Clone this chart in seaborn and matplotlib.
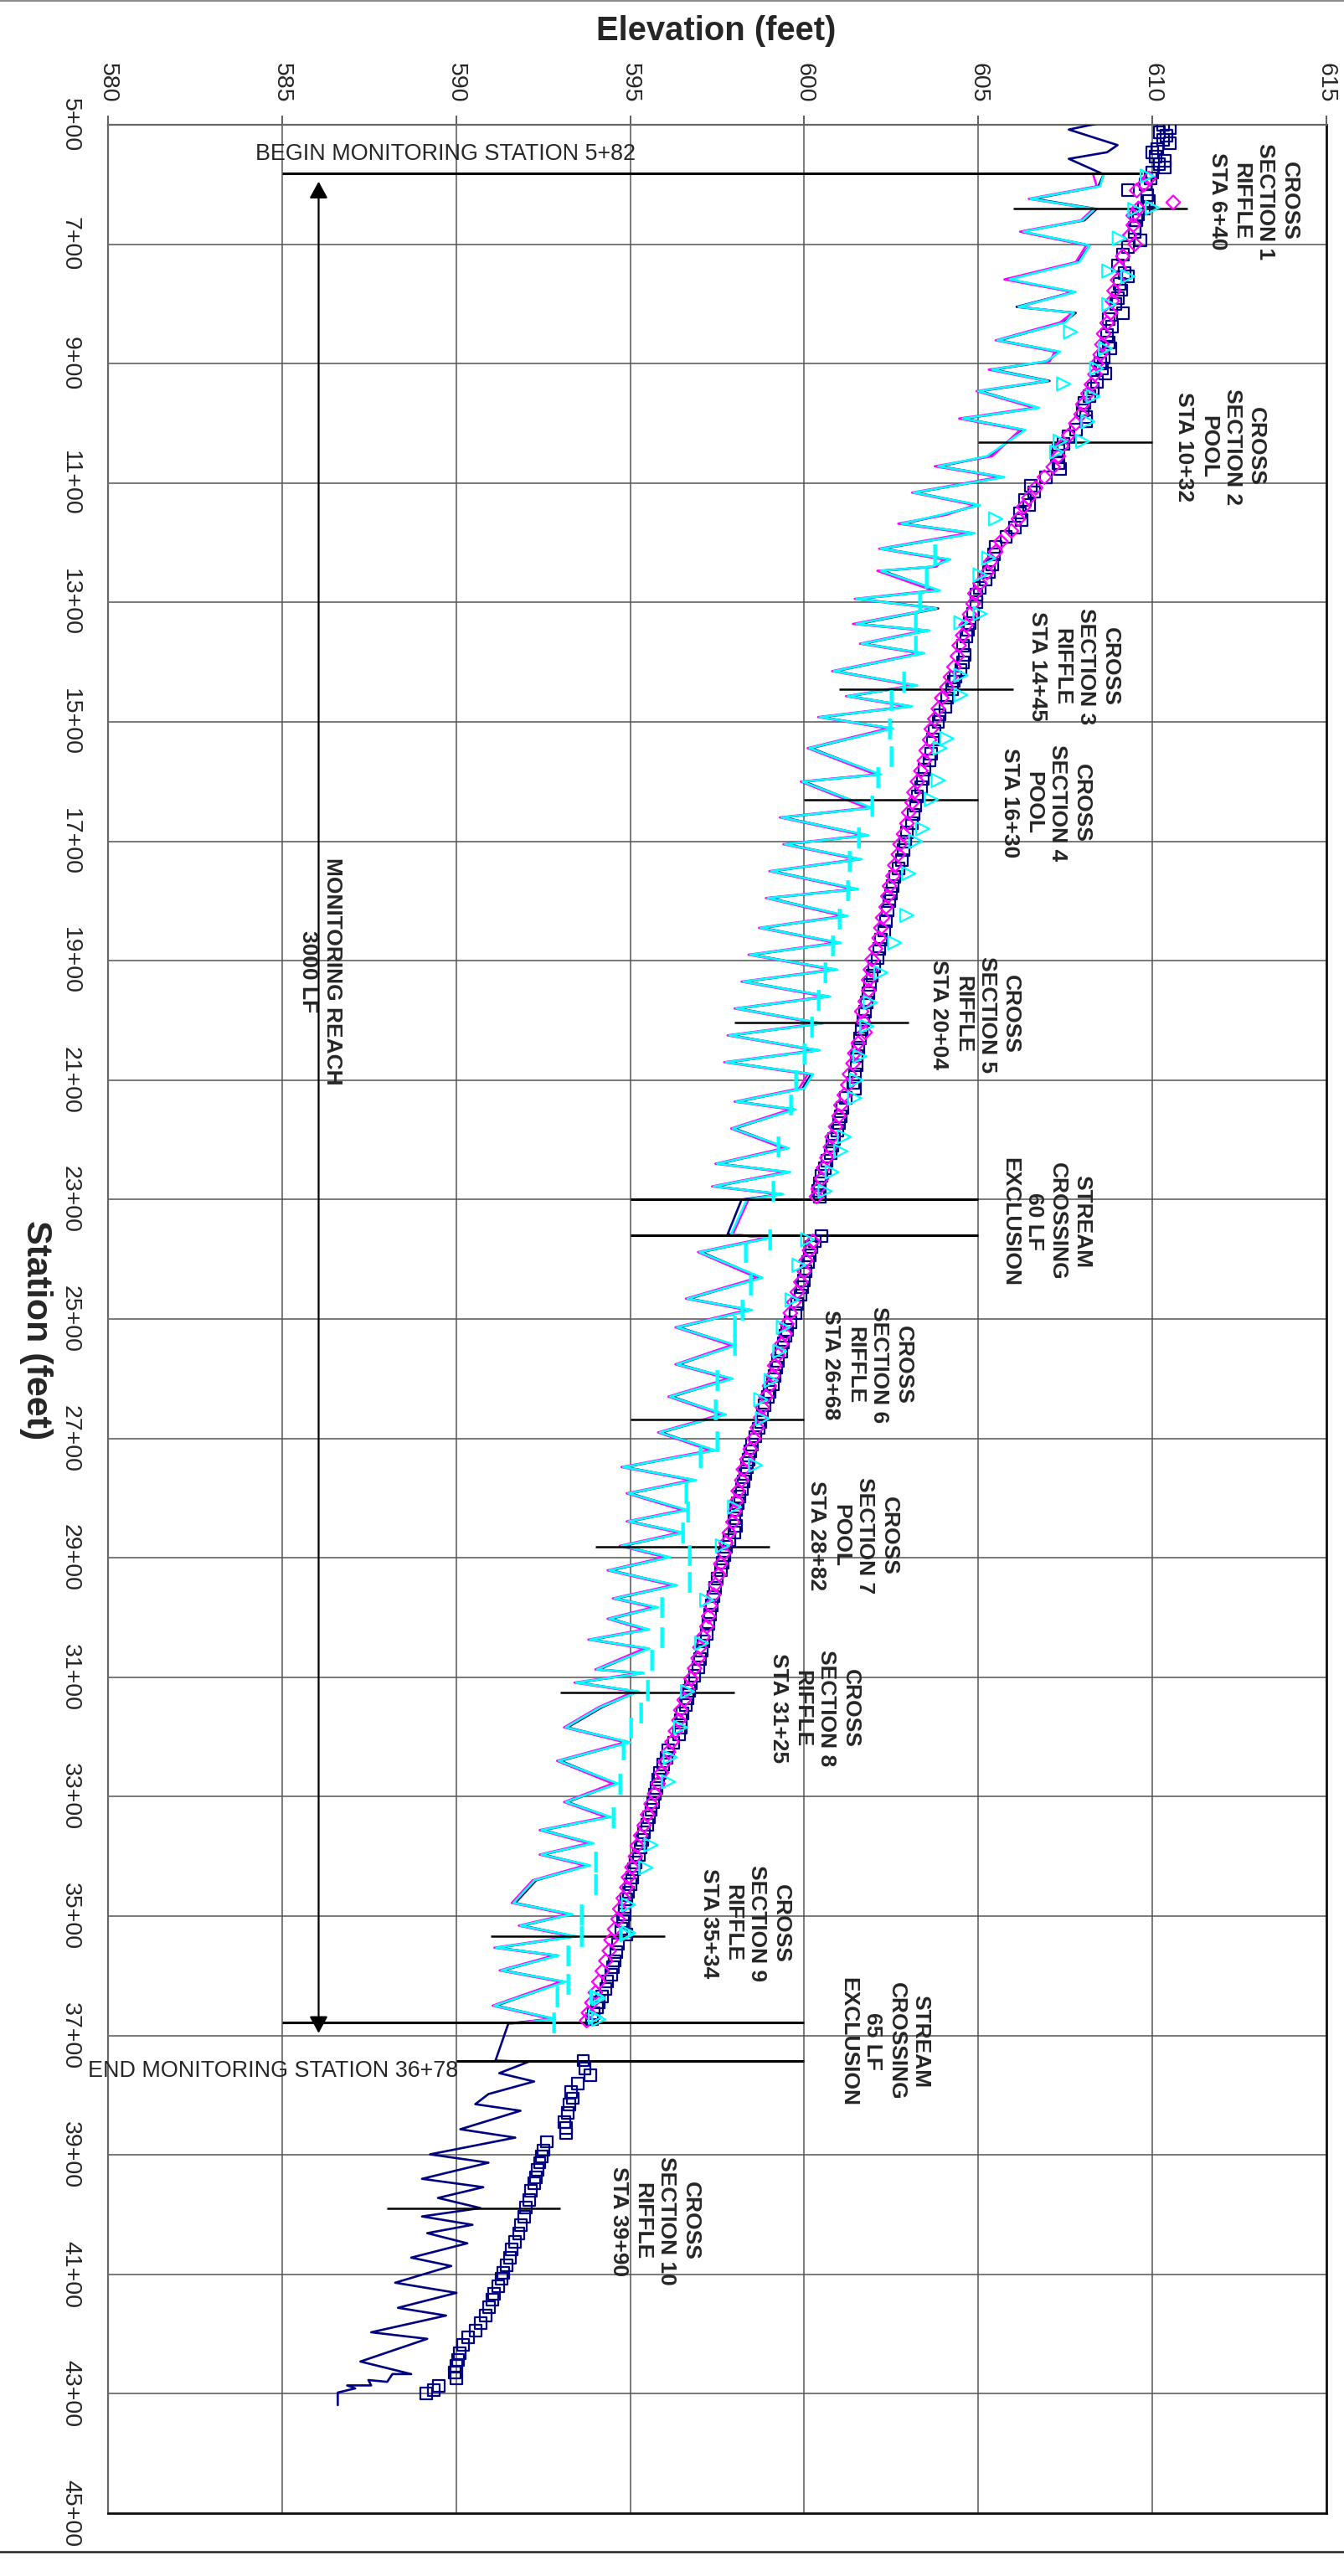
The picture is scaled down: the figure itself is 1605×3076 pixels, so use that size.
import matplotlib
matplotlib.use("Agg")
import matplotlib.pyplot as plt
import seaborn as sns
from matplotlib.lines import Line2D
from matplotlib.ticker import MultipleLocator, FixedLocator, FuncFormatter

sns.set_style("white")
plt.rcParams['font.family'] = ['Liberation Sans', 'DejaVu Sans']

# ---------------- survey data (station in feet, elevation in feet) ----------------
# thalweg stations shared by the three surveys inside the monitored reach
mon_sta = [583, 603, 624, 641, 660, 679, 702, 730, 759, 780,
           805, 815, 831, 861, 880, 896, 910, 929, 946, 974,
           992, 1011, 1055, 1072, 1090, 1116, 1137, 1153, 1168, 1184,
           1210, 1228, 1240, 1247, 1280, 1294, 1310, 1336, 1347, 1369,
           1385, 1415, 1439, 1457, 1474, 1492, 1511, 1544, 1588, 1600,
           1644, 1660, 1690, 1705, 1730, 1750, 1780, 1795, 1825, 1845,
           1870, 1890, 1915, 1935, 1960, 1980, 2005, 2025, 2050, 2070,
           2090, 2114, 2136, 2149, 2181, 2214, 2240, 2254, 2278, 2291,
           2300, 2358, 2364, 2388, 2431, 2466, 2485, 2514, 2544, 2576,
           2600, 2630, 2660, 2690, 2720, 2748, 2770, 2792, 2820, 2839,
           2858, 2880, 2899, 2921, 2946, 2968, 2983, 3002, 3020, 3037,
           3052, 3087, 3093, 3109, 3124, 3150, 3184, 3209, 3240, 3278,
           3309, 3334, 3356, 3378, 3397, 3415, 3440, 3478, 3497, 3516,
           3534, 3553, 3566, 3591, 3610, 3650, 3672, 3680]

asbuilt_thalweg_mon = [608.6, 608.45, 606.6, 608.4, 608.05, 606.25, 608.2, 607.85, 605.85, 607.75,
                       606.1, 607.8, 607.45, 605.6, 607.3, 607.0, 605.45, 607.05, 605.05, 606.7,
                       604.6, 606.3, 605.3, 603.9, 605.7, 603.2, 605.0, 604.0, 602.85, 604.85,
                       602.25, 604.15, 603.7, 602.25, 603.85, 601.55, 603.85, 601.55, 603.55, 601.7,
                       603.4, 600.9, 603.2, 601.3, 603.05, 600.5, 602.5, 600.2, 602.15, 600.0,
                       601.9, 599.4, 601.8, 599.5, 601.6, 599.1, 601.5, 599.0, 601.2, 598.8,
                       601.0, 598.5, 600.9, 598.3, 600.7, 598.1, 600.5, 597.9, 600.4, 597.8,
                       600.2, 599.95, 598.1, 599.7, 598.0, 599.5, 597.55, 599.55, 597.45, 599.35,
                       598.2, 597.8, 599.0, 597.05, 598.75, 596.7, 598.45, 596.4, 598.0, 596.4,
                       597.9, 596.2, 597.7, 595.9, 597.4, 594.85, 596.85, 595.0, 596.6, 595.0,
                       596.5, 594.8, 596.1, 594.45, 596.3, 594.6, 595.75, 594.45, 595.5, 593.9,
                       595.5, 594.1, 595.35, 593.5, 595.2, 594.2, 593.2, 594.95, 593.0, 594.6,
                       593.2, 594.4, 592.5, 593.9, 592.5, 593.8, 592.3, 591.7, 593.3, 591.9,
                       593.4, 591.2, 592.9, 591.35, 593.1, 591.15, 592.8, 591.5]

yr1_thalweg = [608.3, 608.4, 606.45, 608.3, 607.95, 606.2, 608.1, 607.8, 605.75, 607.7,
               606.2, 607.7, 607.35, 605.5, 607.2, 607.05, 605.3, 606.95, 604.95, 606.6,
               604.45, 606.2, 605.4, 603.75, 605.6, 603.1, 604.9, 604.1, 602.7, 604.7,
               602.15, 604.0, 603.8, 602.1, 603.7, 601.45, 603.75, 601.4, 603.45, 601.6,
               603.3, 600.8, 603.1, 601.2, 602.95, 600.4, 602.4, 600.1, 602.05, 599.9,
               601.8, 599.3, 601.7, 599.4, 601.5, 599.0, 601.4, 598.9, 601.1, 598.7,
               600.9, 598.4, 600.8, 598.2, 600.6, 598.0, 600.4, 597.8, 600.3, 597.7,
               600.1, 599.85, 598.0, 599.6, 597.9, 599.4, 597.45, 599.45, 597.35, 599.25,
               598.4, 597.95, 598.9, 596.95, 598.65, 596.6, 598.35, 596.3, 597.9, 596.3,
               597.8, 596.1, 597.6, 595.8, 597.3, 594.75, 596.75, 594.9, 596.5, 594.9,
               596.4, 594.7, 596.0, 594.35, 596.2, 594.5, 595.65, 594.35, 595.4, 593.8,
               595.4, 594.0, 595.25, 593.4, 595.1, 594.1, 593.1, 594.85, 592.9, 594.5,
               593.1, 594.3, 592.4, 593.8, 592.4, 593.7, 592.2, 591.6, 593.2, 591.8,
               593.3, 591.1, 592.8, 591.25, 593.0, 591.05, 592.7, 591.6]

yr2_thalweg = [608.6, 608.5, 606.5, 608.35, 608.0, 606.3, 608.2, 607.9, 605.9, 607.8,
               606.15, 607.75, 607.5, 605.55, 607.35, 606.95, 605.4, 607.0, 605.0, 606.75,
               604.55, 606.35, 605.25, 603.85, 605.75, 603.15, 605.05, 603.95, 602.8, 604.9,
               602.2, 604.2, 603.65, 602.2, 603.9, 601.5, 603.8, 601.5, 603.6, 601.65,
               603.45, 600.85, 603.25, 601.25, 603.1, 600.45, 602.55, 600.15, 602.2, 599.95,
               601.95, 599.35, 601.85, 599.45, 601.65, 599.05, 601.55, 598.95, 601.25, 598.75,
               601.05, 598.45, 600.95, 598.25, 600.75, 598.05, 600.55, 597.85, 600.45, 597.75,
               600.25, 600.0, 598.05, 599.75, 597.95, 599.55, 597.5, 599.6, 597.4, 599.4,
               598.35, 597.9, 599.05, 597.0, 598.8, 596.65, 598.5, 596.35, 598.05, 596.35,
               597.95, 596.15, 597.75, 595.85, 597.45, 594.8, 596.9, 594.95, 596.65, 594.95,
               596.55, 594.75, 596.15, 594.4, 596.35, 594.55, 595.8, 594.4, 595.55, 593.85,
               595.55, 594.05, 595.4, 593.45, 595.25, 594.15, 593.15, 595.0, 592.95, 594.65,
               593.15, 594.45, 592.45, 593.95, 592.45, 593.85, 592.25, 591.65, 593.35, 591.85,
               593.45, 591.15, 592.95, 591.3, 593.15, 591.1, 592.85, 591.75]

# as-built thalweg upstream and downstream of the monitored reach
asbuilt_sta_up = [492, 497, 508, 534, 546, 557]
asbuilt_thalweg_up = [609.05, 608.5, 607.6, 609.0, 608.7, 607.6]
asbuilt_sta_down = [3742, 3744, 3763, 3777, 3798, 3815, 3826, 3857, 3871, 3899,
                    3913, 3940, 3954, 3972, 3989, 4003, 4017, 4031, 4048, 4072,
                    4086, 4114, 4131, 4156, 4169, 4197, 4208, 4246, 4267, 4267,
                    4280, 4277, 4286, 4286, 4291, 4298, 4319]
asbuilt_thalweg_down = [591.13, 592.08, 591.24, 592.24, 590.93, 590.55, 591.85, 590.12, 591.7, 589.25,
                        590.93, 589.02, 590.78, 589.48, 590.7, 589.02, 590.47, 589.17, 590.32, 588.71,
                        589.86, 588.25, 590.01, 588.33, 589.71, 587.56, 589.17, 587.25, 588.71, 588.17,
                        588.02, 587.48, 587.56, 586.87, 587.1, 586.6, 586.6]

# as-built water surface (squares)
ws0_sta = [500, 506, 512, 518, 525, 531, 540, 546, 553, 560, 566, 572, 580, 590, 600, 610, 618, 628, 640, 650,
           660, 672, 679, 693, 705, 718, 735, 748, 754, 766, 777, 790, 800, 815, 826, 838, 852, 865, 875, 890,
           900, 908, 917, 930, 942, 955, 966, 978, 990, 997, 1010, 1022, 1034, 1045, 1056, 1066, 1076, 1090, 1104, 1115,
           1128, 1137, 1150, 1162, 1175, 1190, 1207, 1220, 1236, 1249, 1262, 1275, 1287, 1300, 1319, 1335, 1346, 1357, 1372, 1388,
           1400, 1413, 1425, 1432, 1445, 1460, 1475, 1488, 1500, 1515, 1530, 1553, 1565, 1580, 1595, 1609, 1625, 1640, 1655, 1670,
           1685, 1700, 1715, 1731, 1745, 1760, 1775, 1787, 1800, 1815, 1834, 1850, 1865, 1880, 1895, 1910, 1925, 1940, 1955, 1970,
           1985, 2000, 2015, 2030, 2045, 2060, 2075, 2090, 2104, 2114, 2130, 2146, 2160, 2172, 2184, 2198, 2210, 2222, 2235, 2248,
           2260, 2273, 2286, 2295, 2361, 2370, 2380, 2393, 2405, 2420, 2435, 2447, 2460, 2475, 2490, 2505, 2518, 2528, 2540, 2555,
           2570, 2581, 2595, 2610, 2622, 2630, 2645, 2660, 2672, 2683, 2697, 2710, 2722, 2735, 2748, 2760, 2772, 2785, 2797, 2808,
           2820, 2834, 2846, 2858, 2870, 2882, 2895, 2908, 2921, 2935, 2950, 2965, 2980, 2995, 3010, 3027, 3040, 3055, 3070, 3084,
           3097, 3110, 3123, 3135, 3146, 3160, 3172, 3184, 3196, 3210, 3222, 3235, 3246, 3260, 3272, 3285, 3296, 3310, 3322, 3335,
           3347, 3360, 3372, 3385, 3397, 3410, 3422, 3435, 3447, 3460, 3472, 3485, 3497, 3509, 3521, 3531, 3547, 3560, 3575, 3586,
           3598, 3610, 3622, 3635, 3645, 3653, 3663, 3672, 3742, 3755, 3767, 3780, 3795, 3805, 3815, 3830, 3845, 3855, 3864, 3878,
           3892, 3903, 3913, 3925, 3937, 3947, 3960, 3975, 3988, 4003, 4017, 4031, 4045, 4058, 4072, 4085, 4097, 4107, 4120, 4132,
           4142, 4155, 4169, 4182, 4194, 4205, 4218, 4232, 4243, 4253, 4264, 4274, 4287, 4294, 4300]
ws0_elev = [610.3, 610.5, 610.2, 610.4, 610.3, 610.5, 610.15, 610.0, 610.1, 610.35, 610.2, 610.35, 610.0, 609.95, 609.8, 609.3, 609.85, 609.9, 609.75, 609.6,
            609.55, 609.5, 609.5, 609.65, 609.3, 609.15, 609.0, 609.2, 609.3, 609.05, 609.1, 609.0, 608.95, 609.15, 608.75, 608.85, 608.7, 608.75, 608.8, 608.6,
            608.5, 608.55, 608.65, 608.4, 608.3, 608.2, 608.05, 608.0, 608.1, 608.1, 607.8, 607.6, 607.45, 607.3, 607.25, 607.3, 607.35, 606.95, 606.5, 606.6,
            606.35, 606.45, 606.2, 606.25, 606.05, 605.8, 605.5, 605.45, 605.4, 605.3, 605.2, 605.05, 604.95, 604.95, 604.85, 604.75, 604.7, 604.65, 604.55, 604.6,
            604.55, 604.5, 604.35, 604.3, 604.25, 604.1, 604.05, 603.9, 603.85, 603.75, 603.7, 603.65, 603.6, 603.45, 603.4, 603.35, 603.25, 603.2, 603.15, 603.1,
            602.95, 602.9, 602.85, 602.8, 602.7, 602.6, 602.55, 602.5, 602.45, 602.4, 602.35, 602.3, 602.2, 602.15, 602.1, 602.0, 601.95, 601.9, 601.85, 601.8,
            601.75, 601.7, 601.65, 601.6, 601.55, 601.5, 601.5, 601.45, 601.4, 601.45, 601.2, 601.1, 601.05, 601.0, 600.95, 600.85, 600.8, 600.75, 600.65, 600.6,
            600.5, 600.45, 600.4, 600.45, 600.5, 600.3, 600.2, 600.15, 600.1, 600.05, 600.0, 599.95, 599.9, 599.8, 599.75, 599.6, 599.5, 599.45, 599.4, 599.35,
            599.25, 599.2, 599.15, 599.1, 599.0, 598.95, 598.85, 598.8, 598.75, 598.7, 598.6, 598.5, 598.45, 598.4, 598.35, 598.3, 598.25, 598.2, 598.15, 598.1,
            598.05, 598.0, 598.05, 598.0, 597.85, 597.75, 597.7, 597.65, 597.6, 597.5, 597.45, 597.4, 597.35, 597.3, 597.25, 597.2, 597.1, 597.05, 597.0, 596.95,
            596.85, 596.75, 596.7, 596.65, 596.6, 596.5, 596.45, 596.45, 596.4, 596.25, 596.1, 596.05, 595.95, 595.85, 595.8, 595.75, 595.7, 595.65, 595.6, 595.55,
            595.5, 595.4, 595.35, 595.3, 595.25, 595.15, 595.1, 595.05, 595.0, 594.95, 594.9, 594.85, 594.85, 594.8, 594.75, 594.9, 594.65, 594.6, 594.55, 594.5,
            594.45, 594.35, 594.3, 594.2, 594.1, 594.05, 593.95, 593.9, 593.65, 593.7, 593.85, 593.5, 593.3, 593.35, 593.25, 593.2, 593.1, 593.15, 593.15, 592.6,
            592.5, 592.45, 592.4, 592.35, 592.3, 592.25, 592.15, 592.1, 592.0, 591.95, 591.85, 591.8, 591.7, 591.6, 591.55, 591.45, 591.35, 591.3, 591.2, 591.1,
            591.05, 590.95, 590.85, 590.7, 590.55, 590.35, 590.2, 590.1, 590.05, 590.0, 589.95, 590.0, 589.5, 589.35, 589.15]

# year 1 water surface (diamonds)
ws1_sta = [590, 600, 610, 630, 640, 652, 668, 685, 700, 720, 740, 760, 778, 795, 815, 832, 850, 868, 885, 900,
           918, 935, 950, 968, 985, 1000, 1020, 1038, 1055, 1073, 1090, 1108, 1125, 1140, 1160, 1180, 1198, 1215, 1232, 1250,
           1268, 1285, 1302, 1320, 1338, 1355, 1372, 1390, 1408, 1425, 1442, 1460, 1478, 1495, 1512, 1530, 1548, 1565, 1582, 1600,
           1618, 1635, 1652, 1670, 1688, 1705, 1722, 1740, 1758, 1775, 1792, 1810, 1828, 1845, 1862, 1880, 1898, 1915, 1932, 1950,
           1968, 1985, 2002, 2020, 2038, 2055, 2072, 2090, 2108, 2125, 2142, 2160, 2178, 2195, 2212, 2230, 2247, 2265, 2282, 2295,
           2370, 2385, 2402, 2420, 2438, 2455, 2472, 2490, 2508, 2525, 2542, 2560, 2578, 2595, 2612, 2630, 2648, 2665, 2682, 2700,
           2718, 2735, 2752, 2770, 2788, 2805, 2822, 2840, 2858, 2875, 2892, 2910, 2928, 2945, 2962, 2980, 2998, 3015, 3032, 3050,
           3068, 3085, 3102, 3120, 3138, 3155, 3172, 3190, 3208, 3225, 3242, 3260, 3278, 3295, 3312, 3330, 3348, 3365, 3382, 3400,
           3418, 3435, 3452, 3470, 3488, 3505, 3522, 3540, 3558, 3575, 3592, 3610, 3628, 3645, 3662, 3675]
ws1_elev = [609.9, 609.75, 609.55, 610.6, 609.6, 609.45, 609.45, 609.35, 609.5, 609.15, 609.05, 609.0, 608.9, 608.85, 608.8, 608.7, 608.6, 608.55, 608.5, 608.4,
            608.35, 608.25, 608.15, 608.0, 607.95, 607.8, 607.6, 607.4, 607.3, 607.15, 606.9, 606.65, 606.45, 606.3, 606.15, 605.95, 605.65, 605.5, 605.35, 605.25,
            605.05, 604.9, 604.85, 604.75, 604.65, 604.55, 604.45, 604.4, 604.3, 604.2, 604.1, 603.95, 603.85, 603.75, 603.65, 603.6, 603.5, 603.45, 603.35, 603.25,
            603.15, 603.1, 603.0, 602.95, 602.85, 602.75, 602.7, 602.6, 602.55, 602.45, 602.4, 602.35, 602.25, 602.2, 602.15, 602.05, 601.95, 601.9, 601.85, 601.85,
            601.75, 601.65, 601.7, 601.75, 601.55, 601.45, 601.4, 601.3, 601.25, 601.15, 601.05, 601.0, 600.9, 600.8, 600.75, 600.65, 600.55, 600.5, 600.4, 600.35,
            600.25, 600.15, 600.05, 600.0, 599.9, 599.8, 599.7, 599.6, 599.5, 599.45, 599.35, 599.25, 599.15, 599.1, 599.0, 598.9, 598.8, 598.75, 598.65, 598.55,
            598.45, 598.35, 598.25, 598.2, 598.1, 598.05, 598.0, 597.95, 597.85, 597.75, 597.7, 597.6, 597.55, 597.45, 597.4, 597.3, 597.25, 597.2, 597.1, 597.0,
            596.95, 596.85, 596.75, 596.65, 596.55, 596.45, 596.4, 596.3, 596.2, 596.1, 596.0, 595.9, 595.8, 595.7, 595.6, 595.5, 595.4, 595.3, 595.2, 595.15,
            595.05, 594.95, 594.9, 594.8, 594.7, 594.65, 594.55, 594.45, 594.4, 594.3, 594.2, 594.1, 594.0, 593.9, 593.8, 593.75]

# year 2 water surface (triangles)
ws2_sta = [586, 639, 642, 690, 745, 754, 801, 847, 875, 908, 934, 955, 997, 1030, 1030, 1048, 1160, 1226, 1254, 1319,
           1334, 1422, 1455, 1528, 1544, 1598, 1630, 1679, 1700, 1754, 1824, 1870, 1920, 1970, 2010, 2060, 2100, 2130, 2195, 2219,
           2254, 2286, 2367, 2410, 2468, 2514, 2554, 2603, 2635, 2667, 2745, 2815, 2880, 2971, 3043, 3124, 3184, 3234, 3275, 3381,
           3419, 3481, 3528, 3531, 3635, 3638, 3669, 3673]
ws2_elev = [609.85, 610.0, 609.5, 609.05, 608.75, 609.3, 608.75, 607.65, 608.65, 608.4, 607.45, 608.3, 608.15, 607.35, 608.0, 607.25, 605.5, 605.3, 605.05, 605.05,
            604.5, 604.5, 604.5, 604.1, 603.9, 603.85, 603.65, 603.4, 603.2, 603.0, 602.95, 602.6, 602.2, 601.9, 601.8, 601.6, 601.5, 601.45, 601.15, 601.05,
            600.8, 600.6, 600.1, 599.85, 599.65, 599.4, 599.3, 599.05, 598.75, 598.8, 598.6, 598.0, 597.65, 597.2, 597.05, 596.65, 596.45, 596.15, 596.1, 595.6,
            595.45, 594.95, 594.95, 594.9, 594.05, 594.1, 594.0, 594.1]

# year 2 dashed profile points
dash_sta = [1219, 1259, 1298, 1331, 1373, 1432, 1464, 1511, 1558, 1593, 1640, 1693, 1733, 1782, 1830, 1875, 1920, 1965, 2010, 2055,
            2100, 2141, 2211, 2286, 2367, 2388, 2442, 2485, 2511, 2544, 2603, 2651, 2705, 2732, 2792, 2823, 2858, 2896, 2940, 2983,
            3033, 3071, 3121, 3159, 3184, 3221, 3278, 3334, 3409, 3447, 3497, 3534, 3566, 3613, 3635, 3678]
dash_elev = [603.75, 603.5, 603.3, 603.2, 603.2, 602.85, 602.5, 602.45, 602.5, 602.1, 601.95, 601.55, 601.3, 601.25, 601.0, 600.8, 600.6, 600.4, 600.2, 600.0,
             599.75, 599.6, 599.25, 599.1, 599.0, 598.3, 598.45, 598.2, 598.0, 598.0, 597.5, 597.45, 597.5, 597.0, 596.6, 596.65, 596.5, 596.7, 596.7, 595.9,
             595.9, 595.6, 595.5, 595.3, 595.0, 594.8, 594.7, 594.5, 594.0, 594.0, 593.6, 593.6, 593.2, 593.2, 592.9, 592.8]

# cross-section annotations
xs_labels = ["CROSS\nSECTION 1\nRIFFLE\nSTA 6+40", "CROSS\nSECTION 2\nPOOL\nSTA 10+32",
             "CROSS\nSECTION 3\nRIFFLE\nSTA 14+45", "CROSS\nSECTION 4\nPOOL\nSTA 16+30",
             "CROSS\nSECTION 5\nRIFFLE\nSTA 20+04", "CROSS\nSECTION 6\nRIFFLE\nSTA 26+68",
             "CROSS\nSECTION 7\nPOOL\nSTA 28+82", "CROSS\nSECTION 8\nRIFFLE\nSTA 31+25",
             "CROSS\nSECTION 9\nRIFFLE\nSTA 35+34", "CROSS\nSECTION 10\nRIFFLE\nSTA 39+90"]
xs_sta = [640, 1032, 1445, 1630, 2004, 2668, 2882, 3125, 3534, 3990]
xs_line_from = [606, 605, 601, 600, 598, 595, 594, 593, 591, 588]
xs_line_to = [611, 610, 606, 605, 603, 600, 599, 598, 596, 593]
xs_label_elev = [612.9, 611.95, 607.75, 606.94, 604.9, 601.8, 601.4, 600.3, 598.3, 595.7]
xs_label_sta = [628, 1039, 1407, 1636, 1990, 2577, 2863, 3152, 3512, 4011]

# reach limits and stream crossings
limit_sta = [582, 2300, 2360, 3678, 3743]
limit_from = [585, 595, 595, 585, 590]
limit_to = [609.7, 605, 605, 600, 600]
crossing_labels = ["STREAM\nCROSSING\n60 LF\nEXCLUSION", "STREAM\nCROSSING\n65 LF\nEXCLUSION"]
crossing_elev = [606.94, 602.3]
crossing_sta = [2337, 3710]

# axis ticks
station_ticks = [500, 700, 900, 1100, 1300, 1500, 1700, 1900, 2100, 2300, 2500,
                 2700, 2900, 3100, 3300, 3500, 3700, 3900, 4100, 4300, 4500]
elevation_ticks = [580, 585, 590, 595, 600, 605, 610, 615]

NAVY, MAGENTA, CYAN = "#000080", "#FF00FF", "#00FFFF"

fig = plt.figure(figsize=(16.06, 30.76), dpi=100)
ax = fig.add_axes([0.08032, 0.02438, 0.90598, 0.92718])

# thalweg profiles
asbuilt_sta = asbuilt_sta_up + mon_sta + asbuilt_sta_down
asbuilt_thalweg = asbuilt_thalweg_up + asbuilt_thalweg_mon + asbuilt_thalweg_down
sns.lineplot(x=asbuilt_thalweg, y=asbuilt_sta, sort=False, estimator=None,
             color=NAVY, lw=1.9, ax=ax, zorder=3)
sns.lineplot(x=yr1_thalweg, y=mon_sta, sort=False, estimator=None,
             color=MAGENTA, lw=1.9, ax=ax, zorder=3)
sns.lineplot(x=yr2_thalweg, y=mon_sta, sort=False, estimator=None,
             color=CYAN, lw=1.9, ax=ax, zorder=3)

# water surface points
sns.scatterplot(x=ws0_elev, y=ws0_sta, marker="s", s=100, color=NAVY,
                facecolor="none", edgecolor=NAVY, linewidth=1.6, ax=ax, zorder=4)
sns.scatterplot(x=ws1_elev, y=ws1_sta, marker="D", s=70, color=MAGENTA,
                facecolor="none", edgecolor=MAGENTA, linewidth=1.6, ax=ax, zorder=5)
sns.scatterplot(x=ws2_elev, y=ws2_sta, marker=">", s=130, color=CYAN,
                facecolor="none", edgecolor=CYAN, linewidth=1.6, ax=ax, zorder=6)
dash_marker = [(-0.2, -1), (0.2, -1), (0.2, 1), (-0.2, 1)]
sns.scatterplot(x=dash_elev, y=dash_sta, marker=dash_marker, s=320, color=CYAN,
                edgecolor=CYAN, linewidth=0.5, ax=ax, zorder=6)

# cross-section lines and labels
ax.hlines(xs_sta, xs_line_from, xs_line_to, colors="black", lw=1.8, zorder=3.5)
for lab, ex, st in zip(xs_labels, xs_label_elev, xs_label_sta):
    ax.text(ex, st, lab, rotation=-90, ha="center", va="center", multialignment="center",
            fontsize=19, fontweight="bold", linespacing=1.25, zorder=7)

# reach limits, crossings and the reach arrow
ax.hlines(limit_sta, limit_from, limit_to, colors="black", lw=2.2, zorder=3.5)
for lab, ex, st in zip(crossing_labels, crossing_elev, crossing_sta):
    ax.text(ex, st, lab, rotation=-90, ha="center", va="center", multialignment="center",
            fontsize=19, fontweight="bold", linespacing=1.25, zorder=7)
ax.text(589.7, 549, "BEGIN MONITORING STATION 5+82", ha="center", va="center", fontsize=19.4)
ax.text(584.74, 3760, "END MONITORING STATION 36+78", ha="center", va="center", fontsize=19.4,
        clip_on=False)
ax.annotate("", xy=(586.05, 595), xytext=(586.05, 3696),
            arrowprops=dict(arrowstyle="<|-|>,head_length=0.55,head_width=0.3",
                            color="black", lw=1.6, mutation_scale=22, shrinkA=0, shrinkB=0))
ax.text(586.1, 1918, "MONITORING REACH\n3000 LF", rotation=-90, ha="center", va="center",
        multialignment="center", fontsize=19, fontweight="bold", linespacing=1.25)

# axes, ticks and grid
ax.set_xlim(580, 615)
ax.set_ylim(4500, 500)
ax.xaxis.set_major_locator(FixedLocator(elevation_ticks))
ax.yaxis.set_major_locator(FixedLocator(station_ticks))
ax.yaxis.set_minor_locator(MultipleLocator(50))
ax.yaxis.set_major_formatter(FuncFormatter(lambda v, p: f"{int(round(v)) // 100}+{int(round(v)) % 100:02d}"))
ax.xaxis.set_major_formatter(FuncFormatter(lambda v, p: f"{int(round(v))}"))

ax.tick_params(axis="x", which="major", bottom=False, top=True, labelbottom=False, labeltop=True,
               direction="out", length=8, width=1.2, color="#444444", pad=10.8,
               labelrotation=-90, labelsize=20.5)
ax.tick_params(axis="y", which="major", direction="inout", length=13.7, width=1.2,
               color="#444444", pad=16.2, labelrotation=-90, labelsize=20.5)
ax.tick_params(axis="y", which="minor", direction="inout", length=10.8, width=1.2, color="#444444")
for lbl in ax.get_yticklabels():
    lbl.set_verticalalignment("center")

ax.grid(True, which="major", color="#555555", lw=1.1, zorder=0)
ax.set_axisbelow(True)
for side in ("left", "top"):
    ax.spines[side].set_color("#666666")
    ax.spines[side].set_linewidth(1.6)
for side in ("right", "bottom"):
    ax.spines[side].set_color("#111111")
    ax.spines[side].set_linewidth(2.0)

fig.text(855 / 1606, 1 - 37 / 3076, "Elevation (feet)", ha="center", va="center",
         fontsize=28.8, fontweight="bold")
ax.set_ylabel("Station (feet)", fontsize=31, fontweight="bold", rotation=-90, va="center")
ax.yaxis.set_label_coords(-0.0591, 0.4955)

# page frame lines
fig.add_artist(Line2D([0, 1], [1 - 0.8 / 3076] * 2, transform=fig.transFigure, color="#777777", lw=1.2))
fig.add_artist(Line2D([0, 1], [1 - 3047 / 3076] * 2, transform=fig.transFigure, color="#222222", lw=1.8))

fig.savefig("out.png", dpi=100)
